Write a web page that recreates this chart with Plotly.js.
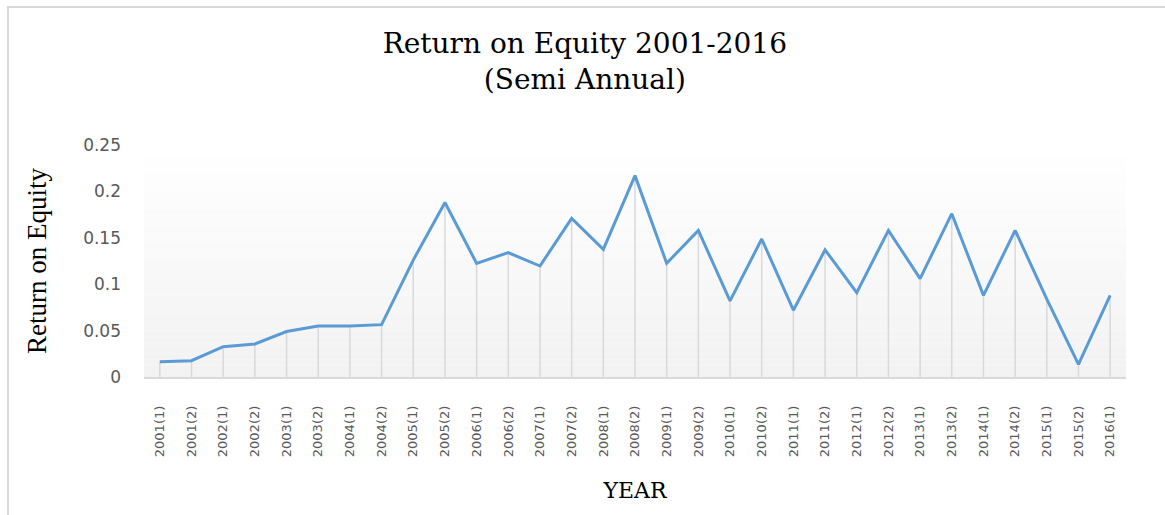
<!DOCTYPE html>
<html><head><meta charset="utf-8">
<script src="https://cdn.plot.ly/plotly-3.0.1.min.js"></script>
<style>
html,body{margin:0;padding:0;background:#fff}
#wrap{position:relative;width:1165px;height:515px;overflow:hidden}
#chart{width:1165px;height:515px}
#frame{position:absolute;left:7px;top:6px;right:-5px;bottom:-5px;border-top:2px solid #d9d9d9;border-left:2px solid #d9d9d9;pointer-events:none}
</style>
</head><body>
<div id="wrap"><div id="chart"></div><div id="frame"></div></div>
<script>
const periods = ['2001(1)','2001(2)','2002(1)','2002(2)','2003(1)','2003(2)','2004(1)','2004(2)',
  '2005(1)','2005(2)','2006(1)','2006(2)','2007(1)','2007(2)','2008(1)','2008(2)',
  '2009(1)','2009(2)','2010(1)','2010(2)','2011(1)','2011(2)','2012(1)','2012(2)',
  '2013(1)','2013(2)','2014(1)','2014(2)','2015(1)','2015(2)','2016(1)'];
const roe = [0.0165,0.0176,0.0327,0.0356,0.049,0.055,0.055,0.0564,
  0.126,0.188,0.1225,0.134,0.1196,0.171,0.1376,0.217,
  0.1225,0.158,0.082,0.1487,0.072,0.137,0.0909,0.158,
  0.106,0.176,0.088,0.158,0.084,0.0137,0.088];
const yTickVals = [0,0.05,0.1,0.15,0.2,0.25];
const yTickText = ['0','0.05','0.1','0.15','0.2','0.25'];
const chartTitle = 'Return on Equity 2001-2016<br>(Semi Annual)';
const xTitle = 'YEAR';
const yTitle = 'Return on Equity';

// vertical gradient plot background (white at top to light grey at bottom)
const bands = [];
const N = 40;
for (let i = 0; i < N; i++) {
  const t = i / (N - 1);
  const v = Math.round(242 + (255 - 242) * t);
  bands.push({type:'rect', xref:'paper', yref:'paper', x0:0, x1:1, y0:i/N, y1:(i+1)/N,
    fillcolor:`rgb(${v},${v},${v})`, line:{width:0}, layer:'below'});
}

const trace = {
  type:'scatter', mode:'lines', x:periods, y:roe,
  line:{color:'#5b9bd5', width:3},
  error_y:{type:'data', symmetric:false, array:roe.map(()=>0), arrayminus:roe,
    color:'#d9d9d9', thickness:1.5, width:0},
  hoverinfo:'x+y'
};

const layout = {
  width:1165, height:515,
  margin:{l:144, r:39, t:145, b:138},
  paper_bgcolor:'rgba(0,0,0,0)', plot_bgcolor:'rgba(0,0,0,0)',
  showlegend:false,
  title:{text:chartTitle, x:0.502, xref:'container', xanchor:'center',
    y:0.897, yref:'container', yanchor:'top',
    font:{family:'DejaVu Serif', size:28, color:'#000'}},
  xaxis:{type:'category', range:[-0.5, periods.length - 0.5], autorange:false,
    tickangle:-90, showgrid:false, zeroline:false,
    showline:true, linecolor:'#d9d9d9', linewidth:1.5, ticks:'',
    ticklabelstandoff:22,
    tickfont:{family:'DejaVu Sans', size:13, color:'#595959'},
    title:{text:xTitle, standoff:26, font:{family:'DejaVu Serif', size:22, color:'#000'}}},
  yaxis:{range:[0,0.25], autorange:false, tickvals:yTickVals, ticktext:yTickText, showgrid:false,
    zeroline:false, showline:false, ticks:'', ticklabelstandoff:22,
    tickfont:{family:'DejaVu Sans', size:17, color:'#595959'},
    title:{text:yTitle, standoff:28, font:{family:'Liberation Serif', size:27, color:'#000'}}},
  shapes:bands
};

Plotly.newPlot('chart', [trace], layout, {displayModeBar:false, staticPlot:true});
</script>
</body></html>
